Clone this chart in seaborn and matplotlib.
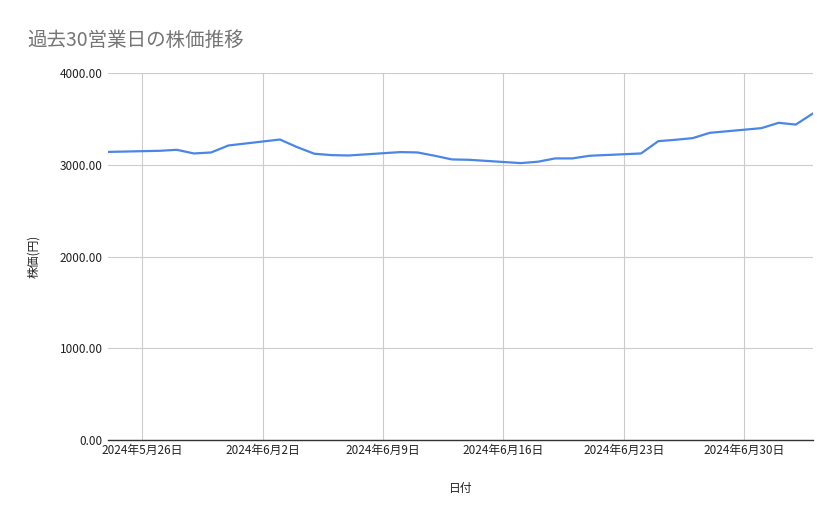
import matplotlib
matplotlib.use("Agg")
import matplotlib.pyplot as plt
import matplotlib.dates as mdates
import matplotlib.ticker as mticker
import seaborn as sns
import pandas as pd

dates = ["2024-05-24", "2024-05-27", "2024-05-28", "2024-05-29", "2024-05-30", "2024-05-31",
         "2024-06-03", "2024-06-04", "2024-06-05", "2024-06-06", "2024-06-07",
         "2024-06-10", "2024-06-11", "2024-06-12", "2024-06-13", "2024-06-14",
         "2024-06-17", "2024-06-18", "2024-06-19", "2024-06-20", "2024-06-21",
         "2024-06-24", "2024-06-25", "2024-06-26", "2024-06-27", "2024-06-28",
         "2024-07-01", "2024-07-02", "2024-07-03", "2024-07-04"]
prices = [3140, 3152, 3163, 3123, 3134, 3210,
          3275, 3192, 3120, 3105, 3101,
          3138, 3134, 3098, 3058, 3054,
          3018, 3033, 3069, 3069, 3098,
          3123, 3257, 3272, 3290, 3348,
          3399, 3457, 3438, 3560]
tick_dates = ["2024-05-26", "2024-06-02", "2024-06-09", "2024-06-16", "2024-06-23", "2024-06-30"]
y_ticks = [0, 1000, 2000, 3000, 4000]

title = "過去30営業日の株価推移"
x_label = "日付"
y_label = "株価(円)"

df = pd.DataFrame({"date": pd.to_datetime(dates), "price": prices})

sns.set_theme(style="white")
plt.rcParams['font.family'] = ['Noto Sans CJK JP', 'DejaVu Sans']

fig = plt.figure(figsize=(8.39, 5.19), dpi=100)
ax = fig.add_axes([108 / 839, 1 - 440 / 519, (813 - 108) / 839, (440 - 73) / 519])

sns.lineplot(data=df, x="date", y="price", ax=ax, color="#4a86e8", linewidth=1.6)

ax.set_xlim(df["date"].iloc[0], df["date"].iloc[-1])
ax.set_ylim(0, 4000)
ax.set_yticks(y_ticks)
ax.yaxis.set_major_formatter(mticker.FuncFormatter(lambda v, p: f"{v:.2f}"))
tick_dt = pd.to_datetime(tick_dates)
ax.set_xticks(tick_dt)
ax.set_xticklabels([f"{d.year}年{d.month}月{d.day}日" for d in tick_dt])

ax.grid(True, color="#cccccc", linewidth=0.8)
for s in ["top", "right", "left"]:
    ax.spines[s].set_visible(False)
ax.spines["bottom"].set_color("#333333")
ax.spines["bottom"].set_linewidth(1.0)
ax.tick_params(axis="both", length=0, labelsize=8.5, colors="#222222")
ax.tick_params(axis="y", pad=4)
ax.tick_params(axis="x", pad=3)

ax.set_xlabel(x_label, fontsize=8.5, color="#222222", labelpad=18)
ax.set_ylabel(y_label, fontsize=8.5, color="#222222", labelpad=14)

fig.text(27 / 839, 1 - 40 / 519, title, fontsize=14, color="#757575", va="center", ha="left")

fig.savefig("out.png", dpi=100, facecolor="white")
